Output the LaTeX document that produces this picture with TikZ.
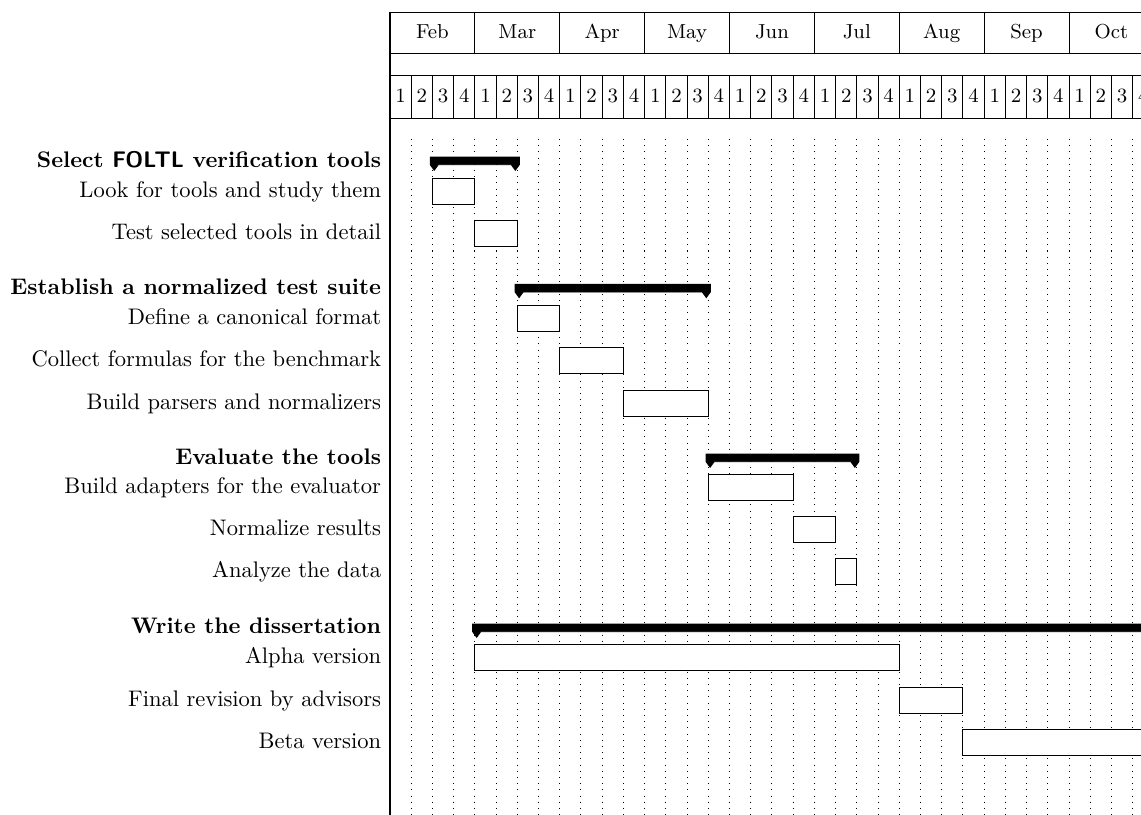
\documentclass[tikz,border=0pt]{standalone}
\newcommand\wkx[1]{390+21.22*(#1)}
\newcommand\taskbar[3]{\draw[taskbox] ({\wkx{#1}},{#3-13}) rectangle ({\wkx{#2}},{#3+13});}
\newcommand\groupbar[3]{%
  \filldraw[groupbox] ({\wkx{#1}-2.2},{#3}) -- ({\wkx{#2}+2},{#3}) -- ({\wkx{#2}+2},{#3+7.7})
    -- ({\wkx{#2}-2},{#3+13.2}) -- ({\wkx{#2}-6},{#3+7.7}) -- ({\wkx{#1}+5.8},{#3+7.7})
    -- ({\wkx{#1}+1.8},{#3+13.2}) -- ({\wkx{#1}-2.2},{#3+7.7}) -- cycle;}
\begin{document}
\begin{tikzpicture}[x=0.444pt,y=-0.444pt,
  taskbox/.style={draw=black,fill=white,line width=0.45pt},
  groupbox/.style={fill=black,draw=black,line width=0.4pt},
  vgridline/.style={line width=0.45pt,dash pattern=on 0.45pt off 2.3pt},
  frame/.style={line width=0.45pt},
  lbl/.style={anchor=base east,inner sep=0pt},
  hdr/.style={anchor=base,inner sep=0pt,font=\small}]
\useasboundingbox (0,0) rectangle (1141,814);
\clip (0,0) rectangle (1141,814);
% vertical grid
\foreach \k in {1,...,36} \draw[vgridline] ({\wkx{\k}},139) -- ({\wkx{\k}},816);
% header frame
\foreach \yy in {12,53.7,75.7,118} \draw[frame] (390,\yy) -- (1170,\yy);
\draw[frame] (390,12) -- (390,816);
\foreach \m in {1,...,9} \draw[frame] ({390+84.875*\m},12) -- ({390+84.875*\m},53.7);
\foreach \k in {1,...,36} \draw[frame] ({\wkx{\k}},75.7) -- ({\wkx{\k}},118);
\foreach \name [count=\i from 0] in {Feb,Mar,Apr,May,Jun,Jul,Aug,Sep,Oct}
  \node[hdr] (m\i) at ({390+84.875*(\i+0.5)},38.5) {\name};
\foreach \k in {0,...,35} {
  \pgfmathtruncatemacro\wk{mod(\k,4)+1}
  \node[hdr] (w\k) at ({\wkx{\k+0.5}},102.7) {\wk};
}
% group bars
\groupbar{2}{6}{157}
\groupbar{6}{15}{284.3}
\groupbar{15}{22}{454}
\groupbar{4}{40}{624}
% task bars
\taskbar{2}{4}{191}
\taskbar{4}{6}{233}
\taskbar{6}{8}{318}
\taskbar{8}{11}{360.5}
\taskbar{11}{15}{403}
\taskbar{15}{19}{487}
\taskbar{19}{21}{529}
\taskbar{21}{22}{571}
\taskbar{4}{24}{657}
\taskbar{24}{27}{700}
\taskbar{27}{40}{742}
% labels
\node[lbl] (g1) at (381.5,167.7) {\textbf{Select \textsf{FOLTL} verification tools}};
\node[lbl] (t1) at (381.5,197) {Look for tools and study them};
\node[lbl] (t2) at (381.5,239.3) {Test selected tools in detail};
\node[lbl] (g2) at (381.5,294.3) {\textbf{Establish a normalized test suite}};
\node[lbl] (t3) at (381.5,324.3) {Define a canonical format};
\node[lbl] (t4) at (381.5,366.8) {Collect formulas for the benchmark};
\node[lbl] (t5) at (381.5,409.3) {Build parsers and normalizers};
\node[lbl] (g3) at (381.5,464) {\textbf{Evaluate the tools}};
\node[lbl] (t6) at (381.5,493.3) {Build adapters for the evaluator};
\node[lbl] (t7) at (381.5,535.3) {Normalize results};
\node[lbl] (t8) at (381.5,577.3) {Analyze the data};
\node[lbl] (g4) at (381.5,633.5) {\textbf{Write the dissertation}};
\node[lbl] (t9) at (381.5,663.3) {Alpha version};
\node[lbl] (t10) at (381.5,706.3) {Final revision by advisors};
\node[lbl] (t11) at (381.5,748.3) {Beta version};
\end{tikzpicture}
\end{document}
